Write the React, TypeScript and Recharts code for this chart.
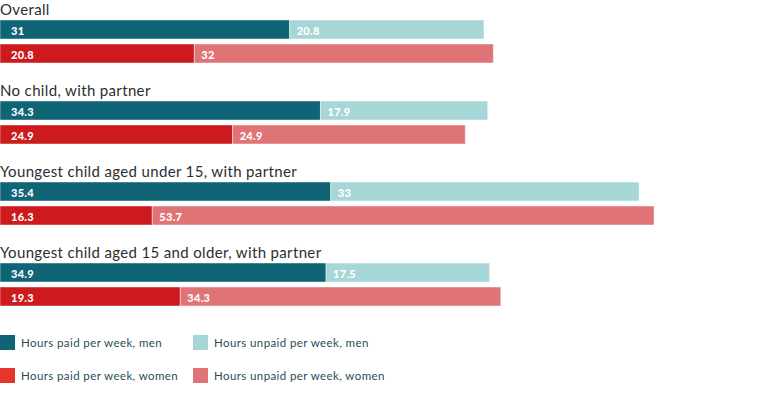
import React from "react";
import { BarChart, Bar, XAxis, YAxis, Cell, LabelList } from "recharts";

const groups = [
  "Overall",
  "No child, with partner",
  "Youngest child aged under 15, with partner",
  "Youngest child aged 15 and older, with partner",
];
const paidMen = [31, 34.3, 35.4, 34.9];
const unpaidMen = [20.8, 17.9, 33, 17.5];
const paidWomen = [20.8, 24.9, 16.3, 19.3];
const unpaidWomen = [32, 24.9, 53.7, 34.3];

const legendLabels = [
  "Hours paid per week, men",
  "Hours unpaid per week, men",
  "Hours paid per week, women",
  "Hours unpaid per week, women",
];

const C_PAID_MEN = "#0f6475";
const C_UNPAID_MEN = "#a6d7d6";
const C_PAID_WOMEN = "#cc1a1d";
const C_UNPAID_WOMEN = "#e07376";
const legendColors = [C_PAID_MEN, C_UNPAID_MEN, "#e5362e", C_UNPAID_WOMEN];

const FONT = "Lato, 'Open Sans', sans-serif";

const makeLabel = (dx: number) => (props: any) => {
  const { x, y, height, value } = props;
  return (
    <text
      x={x + dx}
      y={y + height / 2 + 0.5}
      fill="#ffffff"
      fontFamily={FONT}
      fontWeight={900}
      fontSize={11}
      letterSpacing={0.3}
      dominantBaseline="central"
    >
      {value}
    </text>
  );
};

function Group({ i }: { i: number }) {
  const data = [
    { row: "men", paid: paidMen[i], unpaid: unpaidMen[i] },
    { row: "women", paid: paidWomen[i], unpaid: unpaidWomen[i] },
  ];
  return (
    <div style={{ position: "relative", height: 81 }}>
      <div
        style={{
          position: "absolute",
          left: 0,
          top: 1,
          fontFamily: FONT,
          fontSize: 15,
          lineHeight: "17px",
          color: "#2a2f33",
          letterSpacing: 0.35,
          whiteSpace: "nowrap",
        }}
      >
        {groups[i]}
      </div>
      <div style={{ position: "absolute", left: 0, top: 16.5 }}>
        <BarChart
          width={768}
          height={48}
          data={data}
          layout="vertical"
          margin={{ top: 0, right: 0, bottom: 0, left: 0 }}
          barSize={19}
        >
          <XAxis type="number" hide domain={[0, 82.2]} />
          <YAxis type="category" dataKey="row" hide width={0} />
          <Bar dataKey="paid" stackId="a" isAnimationActive={false} stroke="rgba(255,255,255,0.45)" strokeWidth={1}>
            {data.map((d, k) => (
              <Cell key={k} fill={k === 0 ? C_PAID_MEN : C_PAID_WOMEN} />
            ))}
            <LabelList dataKey="paid" content={makeLabel(11)} />
          </Bar>
          <Bar dataKey="unpaid" stackId="a" isAnimationActive={false} stroke="rgba(255,255,255,0.45)" strokeWidth={1}>
            {data.map((d, k) => (
              <Cell key={k} fill={k === 0 ? C_UNPAID_MEN : C_UNPAID_WOMEN} />
            ))}
            <LabelList dataKey="unpaid" content={makeLabel(7)} />
          </Bar>
        </BarChart>
      </div>
    </div>
  );
}

export default function App() {
  return (
    <div
      style={{
        position: "absolute",
        left: 0,
        top: 0,
        width: 768,
        height: 394,
        background: "#fff",
        overflow: "hidden",
      }}
    >
      {groups.map((g, i) => (
        <Group key={g} i={i} />
      ))}
      {legendLabels.map((l, k) => {
        const col = k % 2;
        const row = Math.floor(k / 2);
        return (
          <div
            key={l}
            style={{
              position: "absolute",
              left: col === 0 ? 0 : 193,
              top: 335 + row * 33,
              display: "flex",
              alignItems: "center",
              fontFamily: FONT,
              fontSize: 11.5,
              color: "#2b4b57",
              letterSpacing: 0.4,
              whiteSpace: "nowrap",
            }}
          >
            <div style={{ width: 15, height: 15, background: legendColors[k], marginRight: 6 }} />
            <span>{l}</span>
          </div>
        );
      })}
    </div>
  );
}
